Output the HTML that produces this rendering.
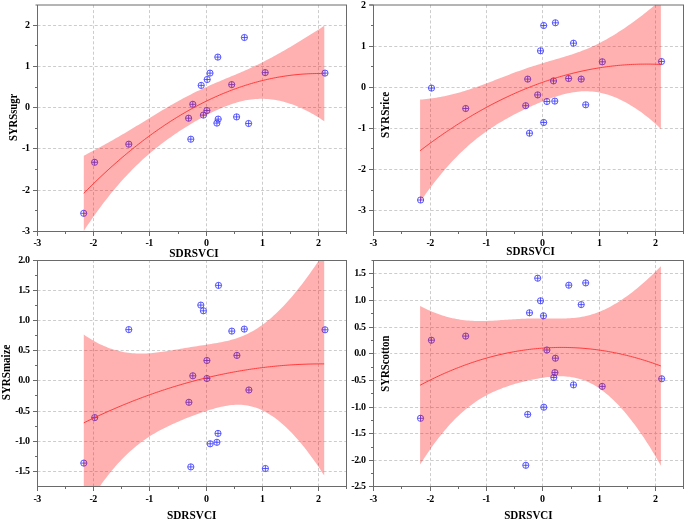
<!DOCTYPE html>
<html><head><meta charset="utf-8"><style>
html,body{margin:0;padding:0;background:#fff;}
body{width:685px;height:520px;overflow:hidden;}
svg{display:block;will-change:transform;}
</style></head><body>
<svg width="685" height="520" viewBox="0 0 685 520">
<defs><clipPath id="cA"><rect x="37.5" y="5" width="309" height="226.5"/></clipPath><clipPath id="cB"><rect x="373.5" y="5" width="310" height="226.5"/></clipPath><clipPath id="cC"><rect x="37.5" y="260.5" width="309" height="226"/></clipPath><clipPath id="cD"><rect x="373.5" y="260.5" width="310" height="226"/></clipPath></defs>
<rect width="685" height="520" fill="#fff"/>
<g id="pA"><path d="M93.5 231.5V5M149.5 231.5V5M206.5 231.5V5M262.5 231.5V5M318.5 231.5V5M37.5 25.5H346.5M37.5 66.5H346.5M37.5 107.5H346.5M37.5 148.5H346.5M37.5 190.5H346.5" stroke="#cccccc" stroke-width="1" stroke-dasharray="3 2.2" fill="none"/><g clip-path="url(#cA)" stroke="#3c3cff" stroke-width="0.85" fill="none"><circle cx="83.7" cy="213.3" r="3.1"/><path d="M80.7 213.3h6M83.7 210.3v6"/><circle cx="94.6" cy="162.3" r="3.1"/><path d="M91.6 162.3h6M94.6 159.3v6"/><circle cx="128.8" cy="144.2" r="3.1"/><path d="M125.8 144.2h6M128.8 141.2v6"/><circle cx="188.6" cy="118.2" r="3.1"/><path d="M185.6 118.2h6M188.6 115.2v6"/><circle cx="190.8" cy="139.2" r="3.1"/><path d="M187.8 139.2h6M190.8 136.2v6"/><circle cx="192.8" cy="104.3" r="3.1"/><path d="M189.8 104.3h6M192.8 101.3v6"/><circle cx="201.2" cy="85.4" r="3.1"/><path d="M198.2 85.4h6M201.2 82.4v6"/><circle cx="203.4" cy="115.1" r="3.1"/><path d="M200.4 115.1h6M203.4 112.1v6"/><circle cx="206.9" cy="110.5" r="3.1"/><path d="M203.9 110.5h6M206.9 107.5v6"/><circle cx="207.2" cy="79.5" r="3.1"/><path d="M204.2 79.5h6M207.2 76.5v6"/><circle cx="210" cy="73.1" r="3.1"/><path d="M207 73.1h6M210 70.1v6"/><circle cx="216.9" cy="123.1" r="3.1"/><path d="M213.9 123.1h6M216.9 120.1v6"/><circle cx="217.8" cy="57.1" r="3.1"/><path d="M214.8 57.1h6M217.8 54.1v6"/><circle cx="218.2" cy="119.1" r="3.1"/><path d="M215.2 119.1h6M218.2 116.1v6"/><circle cx="231.7" cy="84.6" r="3.1"/><path d="M228.7 84.6h6M231.7 81.6v6"/><circle cx="236.6" cy="116.9" r="3.1"/><path d="M233.6 116.9h6M236.6 113.9v6"/><circle cx="244.4" cy="37.5" r="3.1"/><path d="M241.4 37.5h6M244.4 34.5v6"/><circle cx="248.6" cy="123.5" r="3.1"/><path d="M245.6 123.5h6M248.6 120.5v6"/><circle cx="265.2" cy="72.6" r="3.1"/><path d="M262.2 72.6h6M265.2 69.6v6"/><circle cx="325" cy="73.1" r="3.1"/><path d="M322 73.1h6M325 70.1v6"/></g><path clip-path="url(#cA)" d="M83.8 155.67L85.82 154.64L87.84 153.59L89.86 152.54L91.88 151.48L93.91 150.42L95.93 149.34L97.95 148.26L99.97 147.16L101.99 146.06L104.01 144.95L106.03 143.83L108.05 142.71L110.07 141.57L112.09 140.43L114.12 139.28L116.14 138.12L118.16 136.95L120.18 135.77L122.2 134.59L124.22 133.4L126.24 132.2L128.26 130.99L130.28 129.78L132.3 128.56L134.33 127.34L136.35 126.11L138.37 124.88L140.39 123.65L142.41 122.41L144.43 121.17L146.45 119.93L148.47 118.7L150.49 117.46L152.51 116.22L154.54 114.99L156.56 113.77L158.58 112.54L160.6 111.33L162.62 110.12L164.64 108.92L166.66 107.72L168.68 106.54L170.7 105.37L172.72 104.21L174.75 103.06L176.77 101.93L178.79 100.8L180.81 99.7L182.83 98.6L184.85 97.52L186.87 96.46L188.89 95.41L190.91 94.38L192.93 93.36L194.96 92.36L196.98 91.37L199 90.4L201.02 89.45L203.04 88.5L205.06 87.58L207.08 86.66L209.1 85.76L211.12 84.87L213.14 83.99L215.17 83.12L217.19 82.26L219.21 81.4L221.23 80.55L223.25 79.71L225.27 78.87L227.29 78.03L229.31 77.19L231.33 76.35L233.35 75.5L235.38 74.65L237.4 73.8L239.42 72.94L241.44 72.06L243.46 71.18L245.48 70.29L247.5 69.38L249.52 68.46L251.54 67.53L253.56 66.58L255.59 65.62L257.61 64.65L259.63 63.65L261.65 62.65L263.67 61.63L265.69 60.59L267.71 59.54L269.73 58.48L271.75 57.4L273.77 56.31L275.8 55.2L277.82 54.09L279.84 52.96L281.86 51.82L283.88 50.66L285.9 49.5L287.92 48.33L289.94 47.15L291.96 45.95L293.98 44.75L296.01 43.54L298.03 42.32L300.05 41.09L302.07 39.86L304.09 38.61L306.11 37.36L308.13 36.1L310.15 34.83L312.17 33.56L314.19 32.28L316.22 30.99L318.24 29.7L320.26 28.4L322.28 27.1L324.3 25.79L324.3 121.33L322.28 119.95L320.26 118.62L318.24 117.32L316.22 116.07L314.19 114.86L312.17 113.69L310.15 112.56L308.13 111.48L306.11 110.43L304.09 109.43L302.07 108.48L300.05 107.56L298.03 106.69L296.01 105.86L293.98 105.08L291.96 104.34L289.94 103.65L287.92 103L285.9 102.39L283.88 101.83L281.86 101.32L279.84 100.86L277.82 100.44L275.8 100.06L273.77 99.74L271.75 99.46L269.73 99.24L267.71 99.06L265.69 98.93L263.67 98.85L261.65 98.82L259.63 98.84L257.61 98.91L255.59 99.03L253.56 99.2L251.54 99.42L249.52 99.69L247.5 100.01L245.48 100.37L243.46 100.79L241.44 101.25L239.42 101.76L237.4 102.31L235.38 102.9L233.35 103.54L231.33 104.21L229.31 104.92L227.29 105.67L225.27 106.46L223.25 107.28L221.23 108.13L219.21 109.01L217.19 109.93L215.17 110.86L213.14 111.83L211.12 112.82L209.1 113.84L207.08 114.88L205.06 115.94L203.04 117.03L201.02 118.13L199 119.26L196.98 120.4L194.96 121.57L192.93 122.76L190.91 123.96L188.89 125.19L186.87 126.44L184.85 127.7L182.83 128.99L180.81 130.29L178.79 131.62L176.77 132.97L174.75 134.34L172.72 135.73L170.7 137.15L168.68 138.59L166.66 140.05L164.64 141.54L162.62 143.06L160.6 144.6L158.58 146.17L156.56 147.77L154.54 149.4L152.51 151.06L150.49 152.75L148.47 154.48L146.45 156.24L144.43 158.04L142.41 159.87L140.39 161.73L138.37 163.64L136.35 165.58L134.33 167.57L132.3 169.59L130.28 171.65L128.26 173.76L126.24 175.9L124.22 178.09L122.2 180.32L120.18 182.59L118.16 184.9L116.14 187.26L114.12 189.66L112.09 192.11L110.07 194.6L108.05 197.13L106.03 199.71L104.01 202.33L101.99 204.99L99.97 207.7L97.95 210.45L95.93 213.24L93.91 216.08L91.88 218.96L89.86 221.89L87.84 224.86L85.82 227.87L83.8 230.92Z" fill="rgba(255,0,0,0.31)"/><path clip-path="url(#cA)" d="M83.8 193.3L85.82 191.25L87.84 189.23L89.86 187.22L91.88 185.22L93.91 183.25L95.93 181.29L97.95 179.35L99.97 177.43L101.99 175.53L104.01 173.64L106.03 171.77L108.05 169.92L110.07 168.09L112.09 166.27L114.12 164.47L116.14 162.69L118.16 160.93L120.18 159.18L122.2 157.45L124.22 155.74L126.24 154.05L128.26 152.37L130.28 150.72L132.3 149.08L134.33 147.45L136.35 145.85L138.37 144.26L140.39 142.69L142.41 141.14L144.43 139.6L146.45 138.09L148.47 136.59L150.49 135.11L152.51 133.64L154.54 132.2L156.56 130.77L158.58 129.36L160.6 127.96L162.62 126.59L164.64 125.23L166.66 123.89L168.68 122.56L170.7 121.26L172.72 119.97L174.75 118.7L176.77 117.45L178.79 116.21L180.81 115L182.83 113.8L184.85 112.61L186.87 111.45L188.89 110.3L190.91 109.17L192.93 108.06L194.96 106.97L196.98 105.89L199 104.83L201.02 103.79L203.04 102.76L205.06 101.76L207.08 100.77L209.1 99.8L211.12 98.85L213.14 97.91L215.17 96.99L217.19 96.09L219.21 95.21L221.23 94.34L223.25 93.49L225.27 92.66L227.29 91.85L229.31 91.06L231.33 90.28L233.35 89.52L235.38 88.78L237.4 88.05L239.42 87.35L241.44 86.66L243.46 85.99L245.48 85.33L247.5 84.69L249.52 84.08L251.54 83.47L253.56 82.89L255.59 82.33L257.61 81.78L259.63 81.25L261.65 80.73L263.67 80.24L265.69 79.76L267.71 79.3L269.73 78.86L271.75 78.43L273.77 78.02L275.8 77.63L277.82 77.26L279.84 76.91L281.86 76.57L283.88 76.25L285.9 75.95L287.92 75.66L289.94 75.4L291.96 75.15L293.98 74.92L296.01 74.7L298.03 74.51L300.05 74.33L302.07 74.17L304.09 74.02L306.11 73.9L308.13 73.79L310.15 73.7L312.17 73.63L314.19 73.57L316.22 73.53L318.24 73.51L320.26 73.51L322.28 73.52L324.3 73.56" fill="none" stroke="#ff3030" stroke-width="0.9"/><path d="M37.5 5V232M37 231.5H347M346.5 5V232M33 25.5H37.5M33 66.5H37.5M33 107.5H37.5M33 148.5H37.5M33 190.5H37.5M33 231.5H37.5M35 45.5H37.5M35 87.5H37.5M35 128.5H37.5M35 169.5H37.5M35 210.5H37.5M37.5 231.5V236M93.5 231.5V236M149.5 231.5V236M206.5 231.5V236M262.5 231.5V236M318.5 231.5V236M65.5 231.5V234M121.5 231.5V234M178.5 231.5V234M234.5 231.5V234M290.5 231.5V234M346.5 231.5V234" stroke="#6a6a6a" stroke-width="1" fill="none"/><path d="M35.5 5H347" stroke="#6a6a6a" stroke-width="1" fill="none"/><g font-family="'Liberation Serif', serif" font-weight="bold" font-size="10" letter-spacing="-0.4" fill="#000"><text x="29.5" y="28.1" text-anchor="end">2</text><text x="29.5" y="69.1" text-anchor="end">1</text><text x="29.5" y="110.1" text-anchor="end">0</text><text x="29.5" y="151.1" text-anchor="end">-1</text><text x="29.5" y="193.1" text-anchor="end">-2</text><text x="29.5" y="234.1" text-anchor="end">-3</text><text x="37.2" y="245.5" text-anchor="middle">-3</text><text x="93.2" y="245.5" text-anchor="middle">-2</text><text x="149.2" y="245.5" text-anchor="middle">-1</text><text x="206.2" y="245.5" text-anchor="middle">0</text><text x="262.2" y="245.5" text-anchor="middle">1</text><text x="318.2" y="245.5" text-anchor="middle">2</text></g><text x="194" y="256.6" text-anchor="middle" textLength="49.3" lengthAdjust="spacingAndGlyphs" font-family="'Liberation Serif', serif" font-weight="bold" font-size="12" fill="#000">SDRSVCI</text><text transform="translate(17.3,117.4) rotate(-90)" text-anchor="middle" textLength="47.2" lengthAdjust="spacingAndGlyphs" font-family="'Liberation Serif', serif" font-weight="bold" font-size="12" fill="#000">SYRSsugr</text></g><g id="pB"><path d="M430.5 231.5V5M486.5 231.5V5M542.5 231.5V5M599.5 231.5V5M655.5 231.5V5M373.5 46.5H683.5M373.5 87.5H683.5M373.5 128.5H683.5M373.5 169.5H683.5M373.5 210.5H683.5" stroke="#cccccc" stroke-width="1" stroke-dasharray="3 2.2" fill="none"/><g clip-path="url(#cB)" stroke="#3c3cff" stroke-width="0.85" fill="none"><circle cx="420.6" cy="200" r="3.1"/><path d="M417.6 200h6M420.6 197v6"/><circle cx="431.5" cy="88.1" r="3.1"/><path d="M428.5 88.1h6M431.5 85.1v6"/><circle cx="465.7" cy="108.5" r="3.1"/><path d="M462.7 108.5h6M465.7 105.5v6"/><circle cx="525.7" cy="105.7" r="3.1"/><path d="M522.7 105.7h6M525.7 102.7v6"/><circle cx="527.7" cy="79.1" r="3.1"/><path d="M524.7 79.1h6M527.7 76.1v6"/><circle cx="529.5" cy="133.2" r="3.1"/><path d="M526.5 133.2h6M529.5 130.2v6"/><circle cx="537.7" cy="94.9" r="3.1"/><path d="M534.7 94.9h6M537.7 91.9v6"/><circle cx="540.5" cy="50.8" r="3.1"/><path d="M537.5 50.8h6M540.5 47.8v6"/><circle cx="543.7" cy="25.5" r="3.1"/><path d="M540.7 25.5h6M543.7 22.5v6"/><circle cx="543.7" cy="122.5" r="3.1"/><path d="M540.7 122.5h6M543.7 119.5v6"/><circle cx="546.9" cy="101.5" r="3.1"/><path d="M543.9 101.5h6M546.9 98.5v6"/><circle cx="553.5" cy="80.9" r="3.1"/><path d="M550.5 80.9h6M553.5 77.9v6"/><circle cx="554.8" cy="101.1" r="3.1"/><path d="M551.8 101.1h6M554.8 98.1v6"/><circle cx="555.4" cy="22.8" r="3.1"/><path d="M552.4 22.8h6M555.4 19.8v6"/><circle cx="568.6" cy="78.5" r="3.1"/><path d="M565.6 78.5h6M568.6 75.5v6"/><circle cx="573.5" cy="43.2" r="3.1"/><path d="M570.5 43.2h6M573.5 40.2v6"/><circle cx="581.2" cy="79.1" r="3.1"/><path d="M578.2 79.1h6M581.2 76.1v6"/><circle cx="585.7" cy="104.8" r="3.1"/><path d="M582.7 104.8h6M585.7 101.8v6"/><circle cx="602.3" cy="61.8" r="3.1"/><path d="M599.3 61.8h6M602.3 58.8v6"/><circle cx="661.5" cy="61.5" r="3.1"/><path d="M658.5 61.5h6M661.5 58.5v6"/></g><path clip-path="url(#cB)" d="M420.1 99.55L422.12 99.39L424.15 99.2L426.17 98.99L428.19 98.76L430.22 98.51L432.24 98.24L434.26 97.95L436.29 97.63L438.31 97.3L440.34 96.94L442.36 96.56L444.38 96.16L446.41 95.74L448.43 95.29L450.45 94.83L452.48 94.34L454.5 93.83L456.52 93.3L458.55 92.75L460.57 92.18L462.59 91.59L464.62 90.98L466.64 90.35L468.66 89.71L470.69 89.04L472.71 88.37L474.74 87.67L476.76 86.96L478.78 86.24L480.81 85.5L482.83 84.76L484.85 84L486.88 83.24L488.9 82.46L490.92 81.69L492.95 80.9L494.97 80.12L496.99 79.33L499.02 78.54L501.04 77.75L503.06 76.97L505.09 76.18L507.11 75.41L509.14 74.63L511.16 73.87L513.18 73.11L515.21 72.35L517.23 71.61L519.25 70.88L521.28 70.16L523.3 69.44L525.32 68.74L527.35 68.05L529.37 67.37L531.39 66.7L533.42 66.05L535.44 65.4L537.46 64.76L539.49 64.14L541.51 63.52L543.54 62.91L545.56 62.31L547.58 61.71L549.61 61.12L551.63 60.54L553.65 59.95L555.68 59.36L557.7 58.78L559.72 58.19L561.75 57.59L563.77 56.99L565.79 56.37L567.82 55.75L569.84 55.11L571.86 54.45L573.89 53.78L575.91 53.09L577.94 52.37L579.96 51.63L581.98 50.86L584.01 50.07L586.03 49.25L588.05 48.4L590.08 47.53L592.1 46.62L594.12 45.68L596.15 44.71L598.17 43.71L600.19 42.68L602.22 41.62L604.24 40.54L606.26 39.42L608.29 38.27L610.31 37.1L612.34 35.89L614.36 34.66L616.38 33.41L618.41 32.12L620.43 30.82L622.45 29.48L624.48 28.13L626.5 26.74L628.52 25.34L630.55 23.91L632.57 22.46L634.59 20.99L636.62 19.5L638.64 17.99L640.66 16.45L642.69 14.9L644.71 13.32L646.74 11.73L648.76 10.12L650.78 8.48L652.81 6.83L654.83 5.16L656.85 3.47L658.88 1.76L660.9 0.04L660.9 128.9L658.88 126.99L656.85 125.12L654.83 123.3L652.81 121.53L650.78 119.8L648.76 118.12L646.74 116.48L644.71 114.89L642.69 113.36L640.66 111.86L638.64 110.42L636.62 109.02L634.59 107.68L632.57 106.38L630.55 105.13L628.52 103.94L626.5 102.79L624.48 101.69L622.45 100.65L620.43 99.66L618.41 98.72L616.38 97.83L614.36 97L612.34 96.22L610.31 95.49L608.29 94.83L606.26 94.21L604.24 93.66L602.22 93.16L600.19 92.72L598.17 92.33L596.15 92.01L594.12 91.74L592.1 91.53L590.08 91.38L588.05 91.29L586.03 91.25L584.01 91.27L581.98 91.34L579.96 91.47L577.94 91.66L575.91 91.89L573.89 92.18L571.86 92.51L569.84 92.89L567.82 93.31L565.79 93.77L563.77 94.28L561.75 94.82L559.72 95.39L557.7 96L555.68 96.65L553.65 97.32L551.63 98.01L549.61 98.74L547.58 99.49L545.56 100.26L543.54 101.05L541.51 101.86L539.49 102.7L537.46 103.55L535.44 104.42L533.42 105.31L531.39 106.21L529.37 107.13L527.35 108.07L525.32 109.02L523.3 109.99L521.28 110.98L519.25 111.98L517.23 113.01L515.21 114.05L513.18 115.11L511.16 116.18L509.14 117.28L507.11 118.4L505.09 119.55L503.06 120.71L501.04 121.91L499.02 123.12L496.99 124.37L494.97 125.64L492.95 126.94L490.92 128.28L488.9 129.64L486.88 131.04L484.85 132.48L482.83 133.95L480.81 135.46L478.78 137L476.76 138.59L474.74 140.22L472.71 141.89L470.69 143.6L468.66 145.36L466.64 147.17L464.62 149.01L462.59 150.91L460.57 152.85L458.55 154.84L456.52 156.88L454.5 158.97L452.48 161.1L450.45 163.28L448.43 165.52L446.41 167.8L444.38 170.13L442.36 172.51L440.34 174.94L438.31 177.42L436.29 179.95L434.26 182.53L432.24 185.16L430.22 187.83L428.19 190.56L426.17 193.33L424.15 196.16L422.12 199.03L420.1 201.95Z" fill="rgba(255,0,0,0.31)"/><path clip-path="url(#cB)" d="M420.1 150.75L422.12 149.21L424.15 147.68L426.17 146.16L428.19 144.66L430.22 143.17L432.24 141.7L434.26 140.24L436.29 138.79L438.31 137.36L440.34 135.94L442.36 134.54L444.38 133.14L446.41 131.77L448.43 130.4L450.45 129.06L452.48 127.72L454.5 126.4L456.52 125.09L458.55 123.8L460.57 122.52L462.59 121.25L464.62 120L466.64 118.76L468.66 117.54L470.69 116.32L472.71 115.13L474.74 113.94L476.76 112.78L478.78 111.62L480.81 110.48L482.83 109.35L484.85 108.24L486.88 107.14L488.9 106.05L490.92 104.98L492.95 103.92L494.97 102.88L496.99 101.85L499.02 100.83L501.04 99.83L503.06 98.84L505.09 97.87L507.11 96.91L509.14 95.96L511.16 95.03L513.18 94.11L515.21 93.2L517.23 92.31L519.25 91.43L521.28 90.57L523.3 89.72L525.32 88.88L527.35 88.06L529.37 87.25L531.39 86.46L533.42 85.68L535.44 84.91L537.46 84.16L539.49 83.42L541.51 82.69L543.54 81.98L545.56 81.28L547.58 80.6L549.61 79.93L551.63 79.28L553.65 78.63L555.68 78.01L557.7 77.39L559.72 76.79L561.75 76.2L563.77 75.63L565.79 75.07L567.82 74.53L569.84 74L571.86 73.48L573.89 72.98L575.91 72.49L577.94 72.01L579.96 71.55L581.98 71.1L584.01 70.67L586.03 70.25L588.05 69.84L590.08 69.45L592.1 69.07L594.12 68.71L596.15 68.36L598.17 68.02L600.19 67.7L602.22 67.39L604.24 67.1L606.26 66.82L608.29 66.55L610.31 66.29L612.34 66.05L614.36 65.83L616.38 65.62L618.41 65.42L620.43 65.24L622.45 65.07L624.48 64.91L626.5 64.77L628.52 64.64L630.55 64.52L632.57 64.42L634.59 64.34L636.62 64.26L638.64 64.2L640.66 64.16L642.69 64.13L644.71 64.11L646.74 64.11L648.76 64.12L650.78 64.14L652.81 64.18L654.83 64.23L656.85 64.3L658.88 64.38L660.9 64.47" fill="none" stroke="#ff3030" stroke-width="0.9"/><path d="M373.5 5V232M373 231.5H684M683.5 5V232M369 5H373.5M369 46.5H373.5M369 87.5H373.5M369 128.5H373.5M369 169.5H373.5M369 210.5H373.5M371 25.5H373.5M371 66.5H373.5M371 107.5H373.5M371 148.5H373.5M371 190.5H373.5M373.5 231.5V236M430.5 231.5V236M486.5 231.5V236M542.5 231.5V236M599.5 231.5V236M655.5 231.5V236M401.5 231.5V234M458.5 231.5V234M514.5 231.5V234M571.5 231.5V234M627.5 231.5V234M683.5 231.5V234" stroke="#6a6a6a" stroke-width="1" fill="none"/><path d="M369.5 5H684" stroke="#6a6a6a" stroke-width="1" fill="none"/><g font-family="'Liberation Serif', serif" font-weight="bold" font-size="10" letter-spacing="-0.4" fill="#000"><text x="365.5" y="7.6" text-anchor="end">2</text><text x="365.5" y="49.1" text-anchor="end">1</text><text x="365.5" y="90.1" text-anchor="end">0</text><text x="365.5" y="131.1" text-anchor="end">-1</text><text x="365.5" y="172.1" text-anchor="end">-2</text><text x="365.5" y="213.1" text-anchor="end">-3</text><text x="373.2" y="245.5" text-anchor="middle">-3</text><text x="430.2" y="245.5" text-anchor="middle">-2</text><text x="486.2" y="245.5" text-anchor="middle">-1</text><text x="542.2" y="245.5" text-anchor="middle">0</text><text x="599.2" y="245.5" text-anchor="middle">1</text><text x="655.2" y="245.5" text-anchor="middle">2</text></g><text x="530.6" y="254.5" text-anchor="middle" textLength="48.5" lengthAdjust="spacingAndGlyphs" font-family="'Liberation Serif', serif" font-weight="bold" font-size="12" fill="#000">SDRSVCI</text><rect x="379.5" y="91.3" width="10.7" height="47.3" fill="#fff"/><text transform="translate(388.7,114.95) rotate(-90)" text-anchor="middle" textLength="46.3" lengthAdjust="spacingAndGlyphs" font-family="'Liberation Serif', serif" font-weight="bold" font-size="12" fill="#000">SYRSrice</text></g><g id="pC"><path d="M93.5 486.5V260.5M149.5 486.5V260.5M206.5 486.5V260.5M262.5 486.5V260.5M318.5 486.5V260.5M37.5 290.5H346.5M37.5 320.5H346.5M37.5 350.5H346.5M37.5 380.5H346.5M37.5 411.5H346.5M37.5 441.5H346.5M37.5 471.5H346.5" stroke="#cccccc" stroke-width="1" stroke-dasharray="3 2.2" fill="none"/><g clip-path="url(#cC)" stroke="#3c3cff" stroke-width="0.85" fill="none"><circle cx="83.8" cy="463.1" r="3.1"/><path d="M80.8 463.1h6M83.8 460.1v6"/><circle cx="94.7" cy="417.6" r="3.1"/><path d="M91.7 417.6h6M94.7 414.6v6"/><circle cx="128.8" cy="329.6" r="3.1"/><path d="M125.8 329.6h6M128.8 326.6v6"/><circle cx="188.9" cy="402.3" r="3.1"/><path d="M185.9 402.3h6M188.9 399.3v6"/><circle cx="190.8" cy="466.9" r="3.1"/><path d="M187.8 466.9h6M190.8 463.9v6"/><circle cx="192.8" cy="375.8" r="3.1"/><path d="M189.8 375.8h6M192.8 372.8v6"/><circle cx="200.8" cy="305.1" r="3.1"/><path d="M197.8 305.1h6M200.8 302.1v6"/><circle cx="203.4" cy="310.8" r="3.1"/><path d="M200.4 310.8h6M203.4 307.8v6"/><circle cx="206.9" cy="360.5" r="3.1"/><path d="M203.9 360.5h6M206.9 357.5v6"/><circle cx="206.9" cy="378.5" r="3.1"/><path d="M203.9 378.5h6M206.9 375.5v6"/><circle cx="210.2" cy="443.8" r="3.1"/><path d="M207.2 443.8h6M210.2 440.8v6"/><circle cx="216.9" cy="442.3" r="3.1"/><path d="M213.9 442.3h6M216.9 439.3v6"/><circle cx="218" cy="433.4" r="3.1"/><path d="M215 433.4h6M218 430.4v6"/><circle cx="218.5" cy="285.4" r="3.1"/><path d="M215.5 285.4h6M218.5 282.4v6"/><circle cx="231.8" cy="331.1" r="3.1"/><path d="M228.8 331.1h6M231.8 328.1v6"/><circle cx="236.9" cy="355.4" r="3.1"/><path d="M233.9 355.4h6M236.9 352.4v6"/><circle cx="244.3" cy="329.1" r="3.1"/><path d="M241.3 329.1h6M244.3 326.1v6"/><circle cx="248.9" cy="390" r="3.1"/><path d="M245.9 390h6M248.9 387v6"/><circle cx="265.4" cy="468.5" r="3.1"/><path d="M262.4 468.5h6M265.4 465.5v6"/><circle cx="325" cy="329.8" r="3.1"/><path d="M322 329.8h6M325 326.8v6"/></g><path clip-path="url(#cC)" d="M83.8 334.6L85.82 335.97L87.84 337.29L89.86 338.57L91.88 339.79L93.9 340.95L95.92 342.07L97.94 343.13L99.96 344.14L101.98 345.1L104 346.01L106.02 346.86L108.04 347.66L110.06 348.41L112.08 349.1L114.1 349.74L116.12 350.33L118.14 350.87L120.16 351.36L122.18 351.79L124.2 352.17L126.22 352.51L128.24 352.8L130.26 353.03L132.28 353.23L134.3 353.37L136.32 353.48L138.34 353.54L140.36 353.56L142.38 353.55L144.41 353.49L146.43 353.41L148.45 353.29L150.47 353.14L152.49 352.96L154.51 352.76L156.53 352.53L158.55 352.28L160.57 352.02L162.59 351.74L164.61 351.44L166.63 351.13L168.65 350.82L170.67 350.49L172.69 350.16L174.71 349.82L176.73 349.48L178.75 349.14L180.77 348.8L182.79 348.46L184.81 348.12L186.83 347.78L188.85 347.45L190.87 347.12L192.89 346.8L194.91 346.48L196.93 346.16L198.95 345.84L200.97 345.53L202.99 345.22L205.01 344.91L207.03 344.59L209.05 344.28L211.07 343.95L213.09 343.62L215.11 343.29L217.13 342.93L219.15 342.57L221.17 342.18L223.19 341.77L225.21 341.34L227.23 340.88L229.25 340.38L231.27 339.85L233.29 339.28L235.31 338.66L237.33 338L239.35 337.29L241.37 336.52L243.39 335.7L245.41 334.82L247.43 333.88L249.45 332.87L251.47 331.8L253.49 330.66L255.51 329.45L257.53 328.18L259.55 326.84L261.57 325.43L263.59 323.96L265.62 322.42L267.64 320.81L269.66 319.13L271.68 317.39L273.7 315.59L275.72 313.72L277.74 311.79L279.76 309.8L281.78 307.75L283.8 305.64L285.82 303.47L287.84 301.25L289.86 298.96L291.88 296.63L293.9 294.23L295.92 291.79L297.94 289.29L299.96 286.73L301.98 284.13L304 281.47L306.02 278.77L308.04 276.01L310.06 273.21L312.08 270.35L314.1 267.45L316.12 264.5L318.14 261.5L320.16 258.45L322.18 255.36L324.2 252.22L324.2 475.56L322.18 472.42L320.16 469.33L318.14 466.31L316.12 463.36L314.1 460.47L312.08 457.64L310.06 454.88L308.04 452.19L306.02 449.56L304 447L301.98 444.5L299.96 442.08L297.94 439.72L295.92 437.44L293.9 435.22L291.88 433.07L289.86 431L287.84 429L285.82 427.07L283.8 425.22L281.78 423.44L279.76 421.73L277.74 420.11L275.72 418.56L273.7 417.09L271.68 415.71L269.66 414.4L267.64 413.17L265.62 412.03L263.59 410.97L261.57 410L259.55 409.11L257.53 408.3L255.51 407.58L253.49 406.94L251.47 406.39L249.45 405.92L247.43 405.53L245.41 405.23L243.39 405L241.37 404.84L239.35 404.76L237.33 404.76L235.31 404.81L233.29 404.94L231.27 405.12L229.25 405.36L227.23 405.65L225.21 406L223.19 406.38L221.17 406.82L219.15 407.29L217.13 407.79L215.11 408.33L213.09 408.9L211.07 409.49L209.05 410.11L207.03 410.75L205.01 411.41L202.99 412.09L200.97 412.78L198.95 413.5L196.93 414.22L194.91 414.96L192.89 415.72L190.87 416.48L188.85 417.26L186.83 418.06L184.81 418.87L182.79 419.69L180.77 420.52L178.75 421.38L176.73 422.25L174.71 423.14L172.69 424.04L170.67 424.97L168.65 425.93L166.63 426.9L164.61 427.91L162.59 428.94L160.57 430.01L158.55 431.1L156.53 432.24L154.51 433.41L152.49 434.62L150.47 435.87L148.45 437.17L146.43 438.52L144.41 439.91L142.38 441.36L140.36 442.85L138.34 444.41L136.32 446.02L134.3 447.69L132.28 449.42L130.26 451.21L128.24 453.07L126.22 454.99L124.2 456.98L122.18 459.03L120.16 461.15L118.14 463.33L116.12 465.59L114.1 467.91L112.08 470.31L110.06 472.77L108.04 475.3L106.02 477.91L104 480.58L101.98 483.32L99.96 486.13L97.94 489.01L95.92 491.97L93.9 494.99L91.88 498.07L89.86 501.23L87.84 504.46L85.82 507.75L83.8 511.12Z" fill="rgba(255,0,0,0.31)"/><path clip-path="url(#cC)" d="M83.8 422.86L85.82 421.86L87.84 420.88L89.86 419.9L91.88 418.93L93.9 417.97L95.92 417.02L97.94 416.07L99.96 415.14L101.98 414.21L104 413.29L106.02 412.38L108.04 411.48L110.06 410.59L112.08 409.7L114.1 408.83L116.12 407.96L118.14 407.1L120.16 406.25L122.18 405.41L124.2 404.57L126.22 403.75L128.24 402.93L130.26 402.12L132.28 401.32L134.3 400.53L136.32 399.75L138.34 398.97L140.36 398.21L142.38 397.45L144.41 396.7L146.43 395.96L148.45 395.23L150.47 394.5L152.49 393.79L154.51 393.08L156.53 392.38L158.55 391.69L160.57 391.01L162.59 390.34L164.61 389.67L166.63 389.02L168.65 388.37L170.67 387.73L172.69 387.1L174.71 386.48L176.73 385.86L178.75 385.26L180.77 384.66L182.79 384.07L184.81 383.49L186.83 382.92L188.85 382.36L190.87 381.8L192.89 381.26L194.91 380.72L196.93 380.19L198.95 379.67L200.97 379.16L202.99 378.65L205.01 378.16L207.03 377.67L209.05 377.19L211.07 376.72L213.09 376.26L215.11 375.81L217.13 375.36L219.15 374.93L221.17 374.5L223.19 374.08L225.21 373.67L227.23 373.26L229.25 372.87L231.27 372.49L233.29 372.11L235.31 371.74L237.33 371.38L239.35 371.03L241.37 370.68L243.39 370.35L245.41 370.02L247.43 369.7L249.45 369.4L251.47 369.09L253.49 368.8L255.51 368.52L257.53 368.24L259.55 367.97L261.57 367.72L263.59 367.47L265.62 367.22L267.64 366.99L269.66 366.77L271.68 366.55L273.7 366.34L275.72 366.14L277.74 365.95L279.76 365.77L281.78 365.59L283.8 365.43L285.82 365.27L287.84 365.12L289.86 364.98L291.88 364.85L293.9 364.73L295.92 364.61L297.94 364.5L299.96 364.41L301.98 364.32L304 364.24L306.02 364.16L308.04 364.1L310.06 364.04L312.08 364L314.1 363.96L316.12 363.93L318.14 363.9L320.16 363.89L322.18 363.89L324.2 363.89" fill="none" stroke="#ff3030" stroke-width="0.9"/><path d="M37.5 260.5V487M37 486.5H347M346.5 260.5V487M33 260.5H37.5M33 290.5H37.5M33 320.5H37.5M33 350.5H37.5M33 380.5H37.5M33 411.5H37.5M33 441.5H37.5M33 471.5H37.5M35 275.5H37.5M35 305.5H37.5M35 335.5H37.5M35 365.5H37.5M35 395.5H37.5M35 426.5H37.5M35 456.5H37.5M37.5 486.5V491M93.5 486.5V491M149.5 486.5V491M206.5 486.5V491M262.5 486.5V491M318.5 486.5V491M65.5 486.5V489M121.5 486.5V489M178.5 486.5V489M234.5 486.5V489M290.5 486.5V489M346.5 486.5V489" stroke="#6a6a6a" stroke-width="1" fill="none"/><path d="M33.5 260.5H347" stroke="#6a6a6a" stroke-width="1" fill="none"/><g font-family="'Liberation Serif', serif" font-weight="bold" font-size="10" letter-spacing="-0.4" fill="#000"><text x="29.5" y="263.1" text-anchor="end">2.0</text><text x="29.5" y="293.1" text-anchor="end">1.5</text><text x="29.5" y="323.1" text-anchor="end">1.0</text><text x="29.5" y="353.1" text-anchor="end">0.5</text><text x="29.5" y="383.1" text-anchor="end">0.0</text><text x="29.5" y="414.1" text-anchor="end">-0.5</text><text x="29.5" y="444.1" text-anchor="end">-1.0</text><text x="29.5" y="474.1" text-anchor="end">-1.5</text><text x="37.2" y="501.5" text-anchor="middle">-3</text><text x="93.2" y="501.5" text-anchor="middle">-2</text><text x="149.2" y="501.5" text-anchor="middle">-1</text><text x="206.2" y="501.5" text-anchor="middle">0</text><text x="262.2" y="501.5" text-anchor="middle">1</text><text x="318.2" y="501.5" text-anchor="middle">2</text></g><text x="191.7" y="518.6" text-anchor="middle" textLength="49.5" lengthAdjust="spacingAndGlyphs" font-family="'Liberation Serif', serif" font-weight="bold" font-size="12" fill="#000">SDRSVCI</text><text transform="translate(10.1,372.4) rotate(-90)" text-anchor="middle" textLength="55.6" lengthAdjust="spacingAndGlyphs" font-family="'Liberation Serif', serif" font-weight="bold" font-size="12" fill="#000">SYRSmaize</text></g><g id="pD"><path d="M430.5 486.5V260.5M486.5 486.5V260.5M542.5 486.5V260.5M599.5 486.5V260.5M655.5 486.5V260.5M373.5 273.5H683.5M373.5 300.5H683.5M373.5 327.5H683.5M373.5 353.5H683.5M373.5 380.5H683.5M373.5 407.5H683.5M373.5 433.5H683.5M373.5 460.5H683.5" stroke="#cccccc" stroke-width="1" stroke-dasharray="3 2.2" fill="none"/><g clip-path="url(#cD)" stroke="#3c3cff" stroke-width="0.85" fill="none"><circle cx="420.5" cy="418.3" r="3.1"/><path d="M417.5 418.3h6M420.5 415.3v6"/><circle cx="431.4" cy="340.2" r="3.1"/><path d="M428.4 340.2h6M431.4 337.2v6"/><circle cx="465.7" cy="336.1" r="3.1"/><path d="M462.7 336.1h6M465.7 333.1v6"/><circle cx="525.8" cy="465.3" r="3.1"/><path d="M522.8 465.3h6M525.8 462.3v6"/><circle cx="527.7" cy="414.4" r="3.1"/><path d="M524.7 414.4h6M527.7 411.4v6"/><circle cx="529.5" cy="312.8" r="3.1"/><path d="M526.5 312.8h6M529.5 309.8v6"/><circle cx="537.7" cy="278.2" r="3.1"/><path d="M534.7 278.2h6M537.7 275.2v6"/><circle cx="540.5" cy="300.8" r="3.1"/><path d="M537.5 300.8h6M540.5 297.8v6"/><circle cx="543.5" cy="315.8" r="3.1"/><path d="M540.5 315.8h6M543.5 312.8v6"/><circle cx="543.8" cy="407.2" r="3.1"/><path d="M540.8 407.2h6M543.8 404.2v6"/><circle cx="546.9" cy="350" r="3.1"/><path d="M543.9 350h6M546.9 347v6"/><circle cx="553.8" cy="377.5" r="3.1"/><path d="M550.8 377.5h6M553.8 374.5v6"/><circle cx="554.9" cy="372.6" r="3.1"/><path d="M551.9 372.6h6M554.9 369.6v6"/><circle cx="555.4" cy="358.2" r="3.1"/><path d="M552.4 358.2h6M555.4 355.2v6"/><circle cx="568.8" cy="285.2" r="3.1"/><path d="M565.8 285.2h6M568.8 282.2v6"/><circle cx="573.5" cy="384.9" r="3.1"/><path d="M570.5 384.9h6M573.5 381.9v6"/><circle cx="581.2" cy="304.6" r="3.1"/><path d="M578.2 304.6h6M581.2 301.6v6"/><circle cx="585.7" cy="282.9" r="3.1"/><path d="M582.7 282.9h6M585.7 279.9v6"/><circle cx="602.2" cy="386.4" r="3.1"/><path d="M599.2 386.4h6M602.2 383.4v6"/><circle cx="661.7" cy="378.8" r="3.1"/><path d="M658.7 378.8h6M661.7 375.8v6"/></g><path clip-path="url(#cD)" d="M420.1 305.9L422.12 306.95L424.15 307.97L426.17 308.96L428.19 309.9L430.22 310.8L432.24 311.67L434.26 312.5L436.29 313.29L438.31 314.03L440.34 314.74L442.36 315.41L444.38 316.04L446.41 316.63L448.43 317.18L450.45 317.69L452.48 318.16L454.5 318.6L456.52 318.99L458.55 319.35L460.57 319.67L462.59 319.95L464.62 320.2L466.64 320.41L468.66 320.59L470.69 320.74L472.71 320.85L474.74 320.93L476.76 320.99L478.78 321.02L480.81 321.02L482.83 321L484.85 320.96L486.88 320.9L488.9 320.83L490.92 320.74L492.95 320.63L494.97 320.51L496.99 320.39L499.02 320.26L501.04 320.12L503.06 319.98L505.09 319.84L507.11 319.69L509.14 319.55L511.16 319.42L513.18 319.29L515.21 319.17L517.23 319.05L519.25 318.94L521.28 318.84L523.3 318.76L525.32 318.68L527.35 318.61L529.37 318.56L531.39 318.52L533.42 318.48L535.44 318.46L537.46 318.45L539.49 318.45L541.51 318.45L543.54 318.46L545.56 318.48L547.58 318.5L549.61 318.52L551.63 318.54L553.65 318.56L555.68 318.58L557.7 318.58L559.72 318.57L561.75 318.55L563.77 318.51L565.79 318.45L567.82 318.36L569.84 318.25L571.86 318.11L573.89 317.93L575.91 317.71L577.94 317.45L579.96 317.15L581.98 316.81L584.01 316.42L586.03 315.98L588.05 315.49L590.08 314.94L592.1 314.35L594.12 313.7L596.15 313L598.17 312.25L600.19 311.44L602.22 310.58L604.24 309.67L606.26 308.71L608.29 307.7L610.31 306.63L612.34 305.52L614.36 304.36L616.38 303.15L618.41 301.9L620.43 300.6L622.45 299.26L624.48 297.87L626.5 296.44L628.52 294.97L630.55 293.45L632.57 291.9L634.59 290.31L636.62 288.67L638.64 287L640.66 285.29L642.69 283.54L644.71 281.76L646.74 279.94L648.76 278.08L650.78 276.19L652.81 274.26L654.83 272.29L656.85 270.29L658.88 268.26L660.9 266.19L660.9 465.76L658.88 462.19L656.85 458.69L654.83 455.26L652.81 451.89L650.78 448.58L648.76 445.35L646.74 442.18L644.71 439.07L642.69 436.04L640.66 433.07L638.64 430.17L636.62 427.34L634.59 424.58L632.57 421.89L630.55 419.27L628.52 416.72L626.5 414.25L624.48 411.84L622.45 409.51L620.43 407.26L618.41 405.08L616.38 402.98L614.36 400.95L612.34 399L610.31 397.14L608.29 395.35L606.26 393.64L604.24 392.01L602.22 390.47L600.19 389.01L598.17 387.63L596.15 386.33L594.12 385.12L592.1 384L590.08 382.95L588.05 381.99L586.03 381.12L584.01 380.32L581.98 379.6L579.96 378.97L577.94 378.4L575.91 377.92L573.89 377.5L571.86 377.15L569.84 376.87L567.82 376.64L565.79 376.48L563.77 376.37L561.75 376.32L559.72 376.31L557.7 376.35L555.68 376.43L553.65 376.55L551.63 376.71L549.61 376.9L547.58 377.12L545.56 377.37L543.54 377.65L541.51 377.96L539.49 378.29L537.46 378.64L535.44 379.01L533.42 379.41L531.39 379.82L529.37 380.26L527.35 380.71L525.32 381.18L523.3 381.68L521.28 382.19L519.25 382.73L517.23 383.28L515.21 383.86L513.18 384.46L511.16 385.09L509.14 385.74L507.11 386.42L505.09 387.13L503.06 387.86L501.04 388.63L499.02 389.44L496.99 390.28L494.97 391.16L492.95 392.07L490.92 393.03L488.9 394.04L486.88 395.09L484.85 396.18L482.83 397.33L480.81 398.53L478.78 399.79L476.76 401.1L474.74 402.47L472.71 403.89L470.69 405.38L468.66 406.93L466.64 408.54L464.62 410.22L462.59 411.97L460.57 413.78L458.55 415.66L456.52 417.6L454.5 419.62L452.48 421.7L450.45 423.86L448.43 426.08L446.41 428.38L444.38 430.74L442.36 433.18L440.34 435.68L438.31 438.26L436.29 440.91L434.26 443.62L432.24 446.41L430.22 449.27L428.19 452.2L426.17 455.19L424.15 458.26L422.12 461.39L420.1 464.6Z" fill="rgba(255,0,0,0.31)"/><path clip-path="url(#cD)" d="M420.1 385.25L422.12 384.17L424.15 383.12L426.17 382.07L428.19 381.05L430.22 380.04L432.24 379.04L434.26 378.06L436.29 377.1L438.31 376.15L440.34 375.21L442.36 374.29L444.38 373.39L446.41 372.5L448.43 371.63L450.45 370.78L452.48 369.93L454.5 369.11L456.52 368.3L458.55 367.5L460.57 366.72L462.59 365.96L464.62 365.21L466.64 364.48L468.66 363.76L470.69 363.06L472.71 362.37L474.74 361.7L476.76 361.04L478.78 360.4L480.81 359.78L482.83 359.17L484.85 358.57L486.88 358L488.9 357.43L490.92 356.88L492.95 356.35L494.97 355.83L496.99 355.33L499.02 354.85L501.04 354.38L503.06 353.92L505.09 353.48L507.11 353.06L509.14 352.65L511.16 352.25L513.18 351.88L515.21 351.51L517.23 351.17L519.25 350.83L521.28 350.52L523.3 350.22L525.32 349.93L527.35 349.66L529.37 349.41L531.39 349.17L533.42 348.94L535.44 348.74L537.46 348.54L539.49 348.37L541.51 348.2L543.54 348.06L545.56 347.93L547.58 347.81L549.61 347.71L551.63 347.63L553.65 347.56L555.68 347.5L557.7 347.46L559.72 347.44L561.75 347.43L563.77 347.44L565.79 347.46L567.82 347.5L569.84 347.56L571.86 347.63L573.89 347.71L575.91 347.81L577.94 347.93L579.96 348.06L581.98 348.21L584.01 348.37L586.03 348.55L588.05 348.74L590.08 348.95L592.1 349.17L594.12 349.41L596.15 349.67L598.17 349.94L600.19 350.22L602.22 350.52L604.24 350.84L606.26 351.17L608.29 351.52L610.31 351.88L612.34 352.26L614.36 352.66L616.38 353.07L618.41 353.49L620.43 353.93L622.45 354.39L624.48 354.86L626.5 355.34L628.52 355.85L630.55 356.36L632.57 356.9L634.59 357.44L636.62 358.01L638.64 358.59L640.66 359.18L642.69 359.79L644.71 360.42L646.74 361.06L648.76 361.71L650.78 362.39L652.81 363.07L654.83 363.77L656.85 364.49L658.88 365.23L660.9 365.98" fill="none" stroke="#ff3030" stroke-width="0.9"/><path d="M373.5 260.5V487M373 486.5H684M683.5 260.5V487M369 273.5H373.5M369 300.5H373.5M369 327.5H373.5M369 353.5H373.5M369 380.5H373.5M369 407.5H373.5M369 433.5H373.5M369 460.5H373.5M369 486.5H373.5M371 287.5H373.5M371 313.5H373.5M371 340.5H373.5M371 367.5H373.5M371 393.5H373.5M371 420.5H373.5M371 447.5H373.5M371 473.5H373.5M373.5 486.5V491M430.5 486.5V491M486.5 486.5V491M542.5 486.5V491M599.5 486.5V491M655.5 486.5V491M401.5 486.5V489M458.5 486.5V489M514.5 486.5V489M571.5 486.5V489M627.5 486.5V489M683.5 486.5V489" stroke="#6a6a6a" stroke-width="1" fill="none"/><path d="M371.5 260.5H684" stroke="#6a6a6a" stroke-width="1" fill="none"/><g font-family="'Liberation Serif', serif" font-weight="bold" font-size="10" letter-spacing="-0.4" fill="#000"><text x="365.5" y="276.1" text-anchor="end">1.5</text><text x="365.5" y="303.1" text-anchor="end">1.0</text><text x="365.5" y="330.1" text-anchor="end">0.5</text><text x="365.5" y="356.1" text-anchor="end">0.0</text><text x="365.5" y="383.1" text-anchor="end">-0.5</text><text x="365.5" y="410.1" text-anchor="end">-1.0</text><text x="365.5" y="436.1" text-anchor="end">-1.5</text><text x="365.5" y="463.1" text-anchor="end">-2.0</text><text x="365.5" y="489.1" text-anchor="end">-2.5</text><text x="373.2" y="501.5" text-anchor="middle">-3</text><text x="430.2" y="501.5" text-anchor="middle">-2</text><text x="486.2" y="501.5" text-anchor="middle">-1</text><text x="542.2" y="501.5" text-anchor="middle">0</text><text x="599.2" y="501.5" text-anchor="middle">1</text><text x="655.2" y="501.5" text-anchor="middle">2</text></g><text x="528.4" y="518.6" text-anchor="middle" textLength="48.5" lengthAdjust="spacingAndGlyphs" font-family="'Liberation Serif', serif" font-weight="bold" font-size="12" fill="#000">SDRSVCI</text><rect x="379.5" y="335" width="10.7" height="57.3" fill="#fff"/><text transform="translate(388.7,363.65) rotate(-90)" text-anchor="middle" textLength="56.3" lengthAdjust="spacingAndGlyphs" font-family="'Liberation Serif', serif" font-weight="bold" font-size="12" fill="#000">SYRScotton</text></g>
</svg>
</body></html>
